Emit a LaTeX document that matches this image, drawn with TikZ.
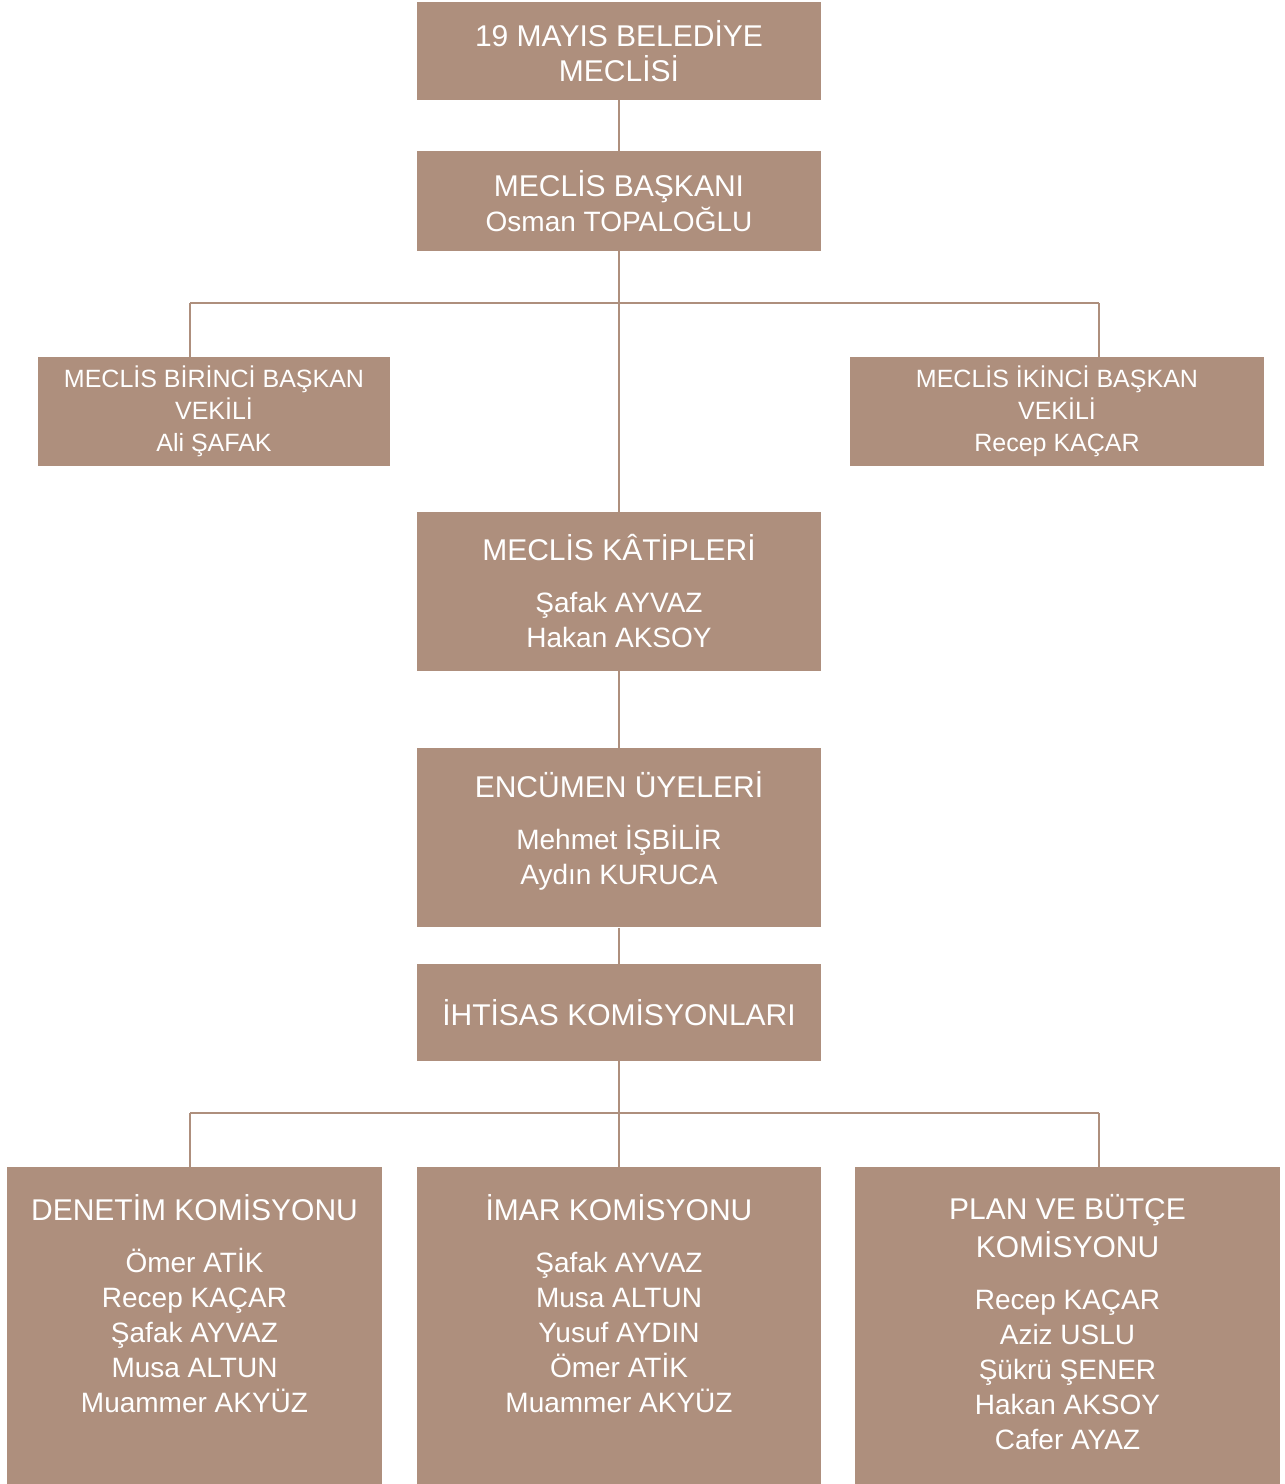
\documentclass[tikz,border=0pt]{standalone}
\usepackage{fontspec}
\setmainfont{Liberation Sans}
\usepackage{tikz}
\definecolor{unitbrown}{RGB}{174,143,125}
\newcommand{\toptext}[4]{\parbox[c][#2][t]{#1}{\centering\vspace*{#3}#4\par}}
\newcommand{\nm}{\fontsize{14}{17.5}\selectfont}

\begin{document}
\begin{tikzpicture}[x=0.5pt, y=-0.5pt,
    unit/.style={fill=unitbrown, text=white, inner sep=0pt, align=center,
        font=\fontsize{15}{17.5}\selectfont},
    vice/.style={unit, font=\fontsize{12.5}{16}\selectfont},
    link/.style={draw=unitbrown, line width=1.4pt}]
    \useasboundingbox (0, 0) rectangle (1285, 1484);

    \node[unit, minimum width=202pt, minimum height=49pt] (meclis) at (619, 51)
        {19 MAYIS BELEDİYE\\MECLİSİ};
    \node[unit, minimum width=202pt, minimum height=50pt] (baskan) at (619, 201)
        {MECLİS BAŞKANI\\\nm Osman TOPALOĞLU};
    \node[vice, minimum width=176pt, minimum height=54.5pt] (birinci) at (214, 411.5)
        {MECLİS BİRİNCİ BAŞKAN\\VEKİLİ\\Ali ŞAFAK};
    \node[vice, minimum width=207pt, minimum height=54.5pt] (ikinci) at (1057, 411.5)
        {MECLİS İKİNCİ BAŞKAN\\VEKİLİ\\Recep KAÇAR};
    \node[unit, minimum width=202pt, minimum height=79.5pt] (katip) at (619, 591.5)
        {MECLİS KÂTİPLERİ\\[8.5pt]\nm Şafak AYVAZ\\\nm Hakan AKSOY};
    \node[unit, anchor=north] (encumen) at (619, 748)
        {\toptext{202pt}{89.5pt}{11.5pt}{ENCÜMEN ÜYELERİ\\[8.5pt]\nm Mehmet İŞBİLİR\\Aydın KURUCA}};
    \node[unit, minimum width=202pt, minimum height=48.5pt] (ihtisas) at (619, 1012.5)
        {İHTİSAS KOMİSYONLARI};

    \node[unit, anchor=north] (denetim) at (194.5, 1167)
        {\toptext{187.5pt}{158.5pt}{13.4pt}{DENETİM KOMİSYONU\\[8.5pt]\nm Ömer ATİK\\Recep KAÇAR\\Şafak AYVAZ\\Musa ALTUN\\Muammer AKYÜZ}};
    \node[unit, anchor=north] (imar) at (619, 1167)
        {\toptext{202pt}{158.5pt}{13.4pt}{İMAR KOMİSYONU\\[8.5pt]\nm Şafak AYVAZ\\Musa ALTUN\\Yusuf AYDIN\\Ömer ATİK\\Muammer AKYÜZ}};
    \node[unit, anchor=north] (plan) at (1067.5, 1167)
        {\toptext{212.5pt}{158.5pt}{13.4pt}{PLAN VE BÜTÇE\\[1.5pt]KOMİSYONU\\[8.5pt]\nm Recep KAÇAR\\Aziz USLU\\Şükrü ŞENER\\Hakan AKSOY\\Cafer AYAZ}};

    % connectors
    \coordinate (vl) at (190, 303);
    \coordinate (vr) at (1099, 303);
    \coordinate (kl) at (190, 1113);
    \coordinate (kr) at (1099, 1113);
    \draw[link] (meclis) -- (baskan);
    \draw[link] (baskan) -- (katip);
    \draw[link] (vl) -- (vr);
    \draw[link] (vl) -- (vl |- birinci.north);
    \draw[link] (vr) -- (vr |- ikinci.north);
    \draw[link] (katip) -- (encumen);
    \draw[link] (encumen) -- (ihtisas);
    \draw[link] (ihtisas) -- (imar);
    \draw[link] (kl) -- (kr);
    \draw[link] (kl) -- (kl |- denetim.north);
    \draw[link] (kr) -- (kr |- plan.north);
\end{tikzpicture}
\end{document}
